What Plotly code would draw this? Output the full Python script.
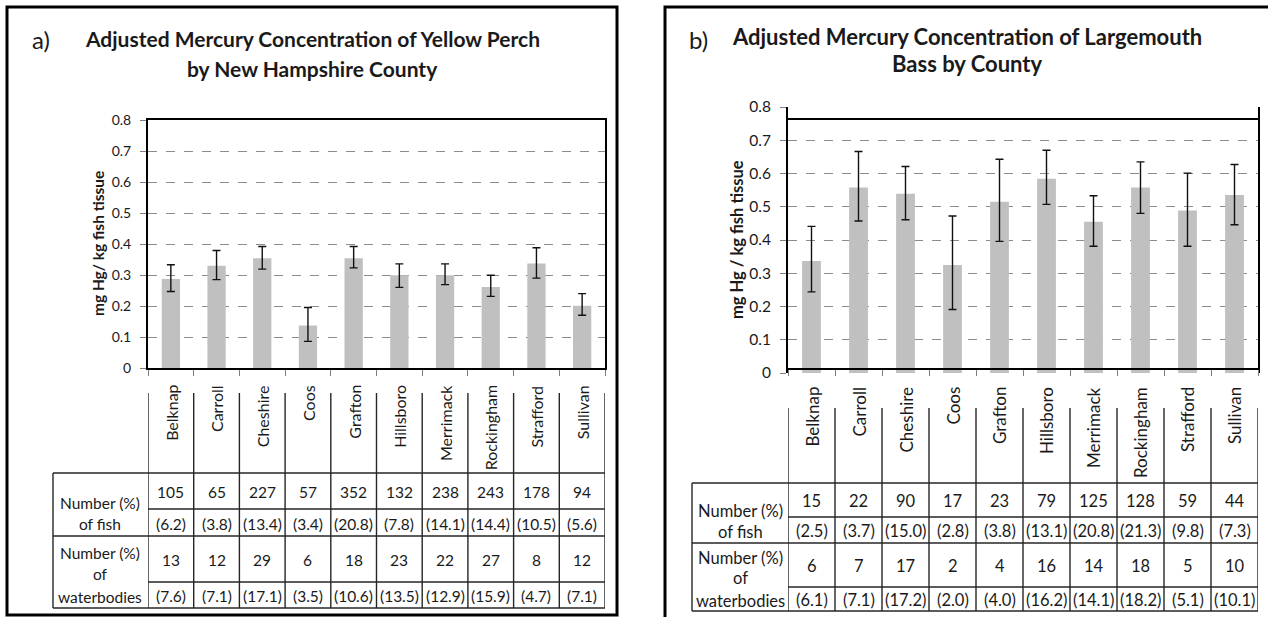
import plotly.graph_objects as go

# ---------------- data ----------------
counties = ["Belknap", "Carroll", "Cheshire", "Coos", "Grafton",
            "Hillsboro", "Merrimack", "Rockingham", "Strafford", "Sullivan"]

perch_hg = [0.287, 0.330, 0.354, 0.137, 0.354, 0.299, 0.299, 0.261, 0.337, 0.201]
perch_upper = [0.333, 0.379, 0.392, 0.195, 0.392, 0.336, 0.336, 0.299, 0.388, 0.240]
perch_lower = [0.247, 0.285, 0.319, 0.086, 0.323, 0.260, 0.269, 0.231, 0.290, 0.170]

bass_hg = [0.337, 0.558, 0.539, 0.325, 0.515, 0.584, 0.455, 0.558, 0.489, 0.535]
bass_upper = [0.441, 0.666, 0.621, 0.472, 0.643, 0.670, 0.533, 0.635, 0.601, 0.627]
bass_lower = [0.244, 0.457, 0.461, 0.191, 0.396, 0.507, 0.381, 0.480, 0.381, 0.446]

perch_fish_n = [105, 65, 227, 57, 352, 132, 238, 243, 178, 94]
perch_fish_pct = [6.2, 3.8, 13.4, 3.4, 20.8, 7.8, 14.1, 14.4, 10.5, 5.6]
perch_wb_n = [13, 12, 29, 6, 18, 23, 22, 27, 8, 12]
perch_wb_pct = [7.6, 7.1, 17.1, 3.5, 10.6, 13.5, 12.9, 15.9, 4.7, 7.1]

bass_fish_n = [15, 22, 90, 17, 23, 79, 125, 128, 59, 44]
bass_fish_pct = [2.5, 3.7, 15.0, 2.8, 3.8, 13.1, 20.8, 21.3, 9.8, 7.3]
bass_wb_n = [6, 7, 17, 2, 4, 16, 14, 18, 5, 10]
bass_wb_pct = [6.1, 7.1, 17.2, 2.0, 4.0, 16.2, 14.1, 18.2, 5.1, 10.1]

y_ticks = [0, 0.1, 0.2, 0.3, 0.4, 0.5, 0.6, 0.7, 0.8]
y_ticktext = ["0", "0.1", "0.2", "0.3", "0.4", "0.5", "0.6", "0.7", "0.8"]

# ---------------- layout helpers ----------------
W, H = 1268, 617
FONT = "Lato"
TXT = "#1a1a1a"


def px(x):
    return x / W


def py(y):
    return 1 - y / H


fig = go.Figure()

fig.add_trace(go.Bar(
    x=counties, y=perch_hg, xaxis="x", yaxis="y",
    marker=dict(color="#c0c0c0", line=dict(width=0)),
    error_y=dict(type="data", symmetric=False,
                 array=[u - v for u, v in zip(perch_upper, perch_hg)],
                 arrayminus=[v - l for v, l in zip(perch_hg, perch_lower)],
                 color="#111111", thickness=1.4, width=4),
    showlegend=False, hoverinfo="skip"))

fig.add_trace(go.Bar(
    x=counties, y=bass_hg, xaxis="x2", yaxis="y2",
    marker=dict(color="#c0c0c0", line=dict(width=0)),
    error_y=dict(type="data", symmetric=False,
                 array=[u - v for u, v in zip(bass_upper, bass_hg)],
                 arrayminus=[v - l for v, l in zip(bass_hg, bass_lower)],
                 color="#111111", thickness=1.4, width=4),
    showlegend=False, hoverinfo="skip"))

# panel geometry (pixels)
PA = dict(left=148, right=605, top=120, bottom=368, hdr_top=393, lab_left=53,
          rows=[473, 509, 536, 582, 608], lab_x=100, ytitle_x=98, ytitle_y=244,
          name_top=383, tick_size=14, tbl_size=15.5, name_size=16)
PB = dict(left=788, right=1258, top=107, bottom=373, hdr_top=408, lab_left=692,
          rows=[483, 517, 543, 587, 611], lab_x=740, ytitle_x=737, ytitle_y=240,
          name_top=385, tick_size=15.5, tbl_size=16.5, name_size=17)


def xaxis_cfg(p):
    return dict(domain=[px(p["left"]), px(p["right"])], range=[-0.5, 9.5],
                type="category", showticklabels=False, ticks="outside",
                tickson="boundaries", ticklen=6, tickcolor="#7f7f7f", tickwidth=1,
                showline=True, mirror=True, linecolor="black", linewidth=2,
                showgrid=False, fixedrange=True, automargin=False)


def yaxis_cfg(p, anchor):
    return dict(domain=[py(p["bottom"]), py(p["top"])], range=[0, 0.8],
                tickvals=y_ticks, ticktext=y_ticktext, anchor=anchor,
                ticks="outside", ticklen=6, tickcolor="#7f7f7f", tickwidth=1,
                ticklabelstandoff=6,
                tickfont=dict(family=FONT, size=p["tick_size"], color=TXT),
                showline=True, mirror=True, linecolor="black", linewidth=2,
                showgrid=True, gridcolor="#8c8c8c", gridwidth=1, griddash="dash",
                zeroline=False, fixedrange=True, automargin=False)


shapes = []
annotations = []


def build_panel(p, xref, n, fish_n, fish_pct, wb_n, wb_pct):
    r = p["rows"]
    lc = "#262626"
    lw = 1.4
    for i in range(n + 1):
        shapes.append(dict(type="line", xref=xref, yref="paper",
                           x0=i - 0.5, x1=i - 0.5, y0=py(p["hdr_top"]), y1=py(r[4]),
                           line=dict(color=lc, width=lw)))
    shapes.append(dict(type="line", xref="paper", yref="paper",
                       x0=px(p["lab_left"]), x1=px(p["lab_left"]), y0=py(r[0]), y1=py(r[4]),
                       line=dict(color=lc, width=lw)))
    for yy in (r[0], r[2], r[4]):
        shapes.append(dict(type="line", xref="paper", yref="paper",
                           x0=px(p["lab_left"]), x1=px(p["right"]), y0=py(yy), y1=py(yy),
                           line=dict(color=lc, width=lw)))
    for yy in (r[1], r[3]):
        shapes.append(dict(type="line", xref="paper", yref="paper",
                           x0=px(p["left"]), x1=px(p["right"]), y0=py(yy), y1=py(yy),
                           line=dict(color=lc, width=lw)))
    for c in counties:
        annotations.append(dict(xref=xref, yref="paper", x=c, y=py(p["name_top"]),
                                text=c, textangle=-90, showarrow=False,
                                xanchor="center", yanchor="top",
                                font=dict(family=FONT, size=p["name_size"], color=TXT)))
    rows_vals = [
        ([str(v) for v in fish_n], (r[0] + r[1]) / 2),
        (["(%.1f)" % v for v in fish_pct], (r[1] + r[2]) / 2),
        ([str(v) for v in wb_n], (r[2] + r[3]) / 2),
        (["(%.1f)" % v for v in wb_pct], (r[3] + r[4]) / 2),
    ]
    for vals, yc in rows_vals:
        for c, t in zip(counties, vals):
            annotations.append(dict(xref=xref, yref="paper", x=c, y=py(yc + 1),
                                    text=t, showarrow=False, xanchor="center",
                                    yanchor="middle",
                                    font=dict(family=FONT, size=p["tbl_size"], color=TXT)))


build_panel(PA, "x", 10, perch_fish_n, perch_fish_pct, perch_wb_n, perch_wb_pct)
build_panel(PB, "x2", 10, bass_fish_n, bass_fish_pct, bass_wb_n, bass_wb_pct)


def label(x, y, text, size, bold=False, angle=0, xanchor="center"):
    t = "<b>%s</b>" % text if bold else text
    annotations.append(dict(xref="paper", yref="paper", x=px(x), y=py(y), text=t,
                            textangle=angle, showarrow=False, xanchor=xanchor,
                            yanchor="middle",
                            font=dict(family=FONT, size=size, color=TXT)))


for p, ys in ((PA, (503, 524, 553, 574, 597)), (PB, (511, 532, 558, 578, 601))):
    s = p["tbl_size"]
    label(p["lab_x"], ys[0], "Number (%)", s)
    label(p["lab_x"], ys[1], "of fish", s)
    label(p["lab_x"], ys[2], "Number (%)", s)
    label(p["lab_x"], ys[3], "of", s)
    label(p["lab_x"], ys[4], "waterbodies", s)

# titles
label(41, 40, "a)", 24)
label(312, 38, "Adjusted Mercury Concentration of Yellow Perch", 21, bold=True)
label(312, 68, "by New Hampshire County", 21, bold=True)
label(698, 40, "b)", 24)
label(967, 36, "Adjusted Mercury Concentration of Largemouth", 22, bold=True)
label(967, 64, "Bass by County", 22, bold=True)

# y-axis titles
label(PA["ytitle_x"], PA["ytitle_y"], "mg Hg/ kg fish tissue", 15.5, bold=True, angle=-90)
label(PB["ytitle_x"], PB["ytitle_y"], "mg Hg / kg fish tissue", 16.5, bold=True, angle=-90)

# outer panel frames
shapes.append(dict(type="rect", xref="paper", yref="paper",
                   x0=px(7), x1=px(617), y0=py(615), y1=py(7),
                   line=dict(color="black", width=3)))
shapes.append(dict(type="rect", xref="paper", yref="paper",
                   x0=px(665), x1=px(1285), y0=py(640), y1=py(7),
                   line=dict(color="black", width=3)))

fig.update_layout(
    width=W, height=H,
    margin=dict(l=0, r=0, t=0, b=0, pad=0, autoexpand=False),
    paper_bgcolor="white", plot_bgcolor="white",
    bargap=0.6,
    xaxis=xaxis_cfg(PA), yaxis=yaxis_cfg(PA, "x"),
    xaxis2=xaxis_cfg(PB), yaxis2=yaxis_cfg(PB, "x2"),
    shapes=shapes, annotations=annotations,
    font=dict(family=FONT, color=TXT),
)

fig.write_html(
    "out.html",
    config={"displayModeBar": False},
    post_script=(
        "document.documentElement.style.margin='0';"
        "document.documentElement.style.overflow='hidden';"
        "document.body.style.margin='0';"
        "document.body.style.overflow='hidden';"
    ),
)
